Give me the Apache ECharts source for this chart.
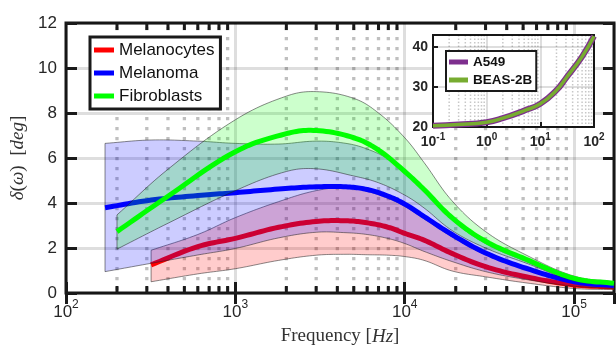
<!DOCTYPE html>
<html>
<head>
<meta charset="utf-8">
<script src="https://cdn.jsdelivr.net/npm/echarts@6/dist/echarts.min.js"></script>
<style>
  html, body { margin: 0; padding: 0; background: #fff; }
  #chart { width: 616px; height: 352px; }
</style>
</head>
<body>
<div id="chart"></div>
<script>
// main plot: delta(omega) vs frequency, mean curve with +/- band per cell type
const redFreq   = [318, 600, 1000, 1800, 3000, 4500, 6000, 8000, 10000, 13000, 19000, 30000, 52000, 100000, 172000];
const redMean   = [1.25, 2.06, 2.43, 2.92, 3.18, 3.21, 3.12, 2.92, 2.65, 2.35, 1.76, 1.17, 0.72, 0.36, 0.27];
const redUpper  = [1.9, 2.6, 3.35, 4.06, 4.55, 4.68, 4.52, 4.2, 3.85, 3.3, 2.5, 1.7, 1.05, 0.45, 0.3];
const redLower  = [0.5, 0.85, 1.08, 1.45, 1.68, 1.72, 1.7, 1.68, 1.62, 1.45, 0.98, 0.72, 0.45, 0.2, 0.15];

const blueFreq  = [170, 318, 600, 1000, 1800, 3000, 4500, 6000, 8000, 10000, 13000, 19000, 30000, 52000, 100000, 172000];
const blueMean  = [3.79, 4.13, 4.33, 4.46, 4.62, 4.72, 4.72, 4.6, 4.3, 3.95, 3.4, 2.6, 1.78, 1.1, 0.5, 0.33];
const blueUpper = [6.65, 6.8, 6.75, 6.65, 6.62, 6.75, 6.65, 6.4, 5.95, 5.35, 4.55, 3.25, 2.2, 1.4, 0.58, 0.4];
const blueLower = [0.95, 1.32, 1.69, 1.98, 2.45, 2.7, 2.68, 2.6, 2.42, 2.2, 1.85, 1.4, 0.95, 0.6, 0.3, 0.2];

const greenFreq  = [200, 400, 1000, 2000, 3000, 5000, 7000, 10000, 13000, 19000, 30000, 52000, 100000, 172000];
const greenMean  = [2.73, 4.3, 6.28, 7.08, 7.22, 6.9, 6.35, 5.4, 4.6, 3.35, 2.3, 1.5, 0.65, 0.43];
const greenUpper = [3.47, 5.5, 7.7, 8.75, 8.95, 8.65, 8.0, 6.9, 5.8, 4.1, 2.73, 1.69, 0.75, 0.5];
const greenLower = [1.95, 3.1, 4.55, 5.4, 5.52, 5.2, 4.9, 4.35, 3.78, 2.78, 2.0, 1.33, 0.55, 0.38];

// inset
const insetFreq = [0.1, 0.3, 1, 2, 5, 10, 20, 30, 60, 100];
const a549      = [20.3, 20.6, 21.2, 22.2, 24.1, 25.8, 29.2, 32.2, 37.6, 42.7];
const beas2b    = [20.3, 20.6, 21.2, 22.2, 24.1, 25.8, 29.2, 32.2, 37.6, 42.7];

const legendNames = ['Melanocytes', 'Melanoma', 'Fibroblasts'];
const insetNames = ['A549', 'BEAS-2B'];

function minorTicks(loExp, hiExp, max) {
  const out = [];
  for (let e = loExp; e < hiExp; e++) {
    for (let k = 2; k <= 9; k++) {
      const v = k * Math.pow(10, e);
      if (v < max) out.push(+v.toPrecision(3));
    }
  }
  return out;
}
const mainMinor = minorTicks(2, 5, 172000);
const insetMinor = minorTicks(-1, 2, 100);

const edge = 'rgba(30,30,30,0.75)';
const sans = 'Liberation Sans, Arial, sans-serif';
const serif = 'Liberation Serif, DejaVu Serif, serif';

function pairs(xs, ys) { return xs.map((x, i) => [x, ys[i]]); }

// smooth a pixel polyline with bezier segments (same idea as echarts' smooth line)
function smoothPath(p, k) {
  const n = p.length, out = [];
  const cin = [], cout = [];
  for (let i = 0; i < n; i++) {
    const a = p[Math.max(i - 1, 0)], b = p[Math.min(i + 1, n - 1)];
    let vx = b[0] - a[0], vy = b[1] - a[1];
    const len = Math.hypot(vx, vy) || 1;
    vx /= len; vy /= len;
    const dPrev = i > 0 ? Math.hypot(p[i][0] - p[i - 1][0], p[i][1] - p[i - 1][1]) : 0;
    const dNext = i < n - 1 ? Math.hypot(p[i + 1][0] - p[i][0], p[i + 1][1] - p[i][1]) : 0;
    cin.push([p[i][0] - vx * dPrev * k, p[i][1] - vy * dPrev * k]);
    cout.push([p[i][0] + vx * dNext * k, p[i][1] + vy * dNext * k]);
  }
  for (let i = 0; i < n - 1; i++) {
    const p0 = p[i], p1 = cout[i], p2 = cin[i + 1], p3 = p[i + 1];
    for (let s = 0; s < 12; s++) {
      const t = s / 12, u = 1 - t;
      out.push([
        u * u * u * p0[0] + 3 * u * u * t * p1[0] + 3 * u * t * t * p2[0] + t * t * t * p3[0],
        u * u * u * p0[1] + 3 * u * u * t * p1[1] + 3 * u * t * t * p2[1] + t * t * t * p3[1]
      ]);
    }
  }
  out.push(p[n - 1]);
  return out;
}

function coords(api, freq, vals) { return freq.map((f, i) => api.coord([f, vals[i]])); }

function band(key, freq, lower, upper, fill) {
  return {
    name: key + '-band', type: 'custom', xAxisIndex: 0, yAxisIndex: 0, silent: true,
    data: [[freq[0], lower[0]]],
    renderItem: function (params, api) {
      const top = smoothPath(coords(api, freq, upper), 0.38);
      const bot = smoothPath(coords(api, freq, lower), 0.38).reverse();
      return { type: 'polygon', shape: { points: top.concat(bot) },
               style: { fill: fill, stroke: edge, lineWidth: 0.7 } };
    }
  };
}

function meanLine(name, freq, vals, color) {
  return {
    name: name, type: 'custom', xAxisIndex: 0, yAxisIndex: 0, silent: true,
    itemStyle: { color: color },
    data: [[freq[0], vals[0]]],
    renderItem: function (params, api) {
      return { type: 'polyline', shape: { points: smoothPath(coords(api, freq, vals), 0.38) },
               style: { stroke: color, lineWidth: 5, fill: null, lineJoin: 'round' } };
    }
  };
}

function supLabel(v) {
  const e = Math.round(Math.log10(v));
  return '{n|10}{s|' + e + '}';
}

const chart = echarts.init(document.getElementById('chart'), null, { renderer: 'canvas' });

const option = {
  animation: false,
  backgroundColor: '#fff',
  grid: [
    { left: 66, top: 23, right: 2, bottom: 59, show: true, borderColor: '#1a1a1a', borderWidth: 3,
      backgroundColor: 'transparent' },
    { left: 433, top: 35, width: 161, height: 92, show: true, borderColor: '#1a1a1a', borderWidth: 2,
      backgroundColor: '#fff', z: 10 }
  ],
  legend: [
    { data: legendNames, orient: 'vertical', left: 90, top: 37, itemWidth: 20, itemHeight: 5, icon: 'rect',
      itemGap: 3, padding: [3, 6, 3, 4], backgroundColor: '#fff', borderColor: '#1a1a1a', borderWidth: 3,
      borderRadius: 0, textStyle: { fontFamily: sans, fontSize: 17, color: '#111', lineHeight: 20 } },
    { data: insetNames, orient: 'vertical', left: 446, top: 51, itemWidth: 19, itemHeight: 5, icon: 'rect',
      itemGap: 2, padding: [3, 4, 3, 3], backgroundColor: '#fff', borderColor: '#1a1a1a', borderWidth: 2,
      borderRadius: 0, z: 14,
      textStyle: { fontFamily: sans, fontSize: 13.5, fontWeight: 'bold', color: '#111', lineHeight: 16 } }
  ],
  xAxis: [
    { type: 'log', logBase: 10, gridIndex: 0, min: 100, max: 172000, position: 'bottom',
      name: '{r|Frequency }{r|[}{i|Hz}{r|]}', nameLocation: 'middle', nameGap: 34,
      nameTextStyle: { rich: {
        r: { fontFamily: serif, fontSize: 19, color: '#333' },
        i: { fontFamily: serif, fontSize: 19, fontStyle: 'italic', color: '#333' } } },
      axisLine: { show: false },
      axisTick: { inside: true, length: 11, lineStyle: { color: '#1a1a1a', width: 3 } },
      axisLabel: { margin: 6, showMaxLabel: false, formatter: supLabel, rich: {
        n: { fontFamily: sans, fontSize: 17, color: '#262626', lineHeight: 22, verticalAlign: 'bottom' },
        s: { fontFamily: sans, fontSize: 12, color: '#262626', lineHeight: 12, verticalAlign: 'top' } } },
      splitLine: { show: true, lineStyle: { color: 'rgba(0,0,0,0.13)', width: 3 } } },
    { type: 'log', logBase: 10, gridIndex: 0, min: 100, max: 172000, position: 'top',
      axisLine: { show: false }, axisLabel: { show: false }, splitLine: { show: false },
      axisTick: { inside: true, length: 11, lineStyle: { color: '#1a1a1a', width: 3 } } },
    { type: 'log', logBase: 10, gridIndex: 1, min: 0.1, max: 100, z: 11,
      axisLine: { show: false },
      axisTick: { inside: true, length: 5, lineStyle: { color: '#1a1a1a', width: 2 } },
      axisLabel: { margin: 5, showMaxLabel: true, formatter: supLabel, rich: {
        n: { fontFamily: sans, fontSize: 14, fontWeight: 'bold', color: '#262626', lineHeight: 17, verticalAlign: 'bottom' },
        s: { fontFamily: sans, fontSize: 10, fontWeight: 'bold', color: '#262626', lineHeight: 10, verticalAlign: 'top' } } },
      splitLine: { show: true, lineStyle: { color: 'rgba(0,0,0,0.13)', width: 2 } } }
  ],
  yAxis: [
    { type: 'value', gridIndex: 0, min: 0, max: 12, interval: 2, position: 'left',
      name: '{i|δ}{r|(}{i|ω}{r|)  [}{i|deg}{r|]}', nameLocation: 'middle', nameGap: 36,
      nameTextStyle: { rich: {
        r: { fontFamily: serif, fontSize: 19, color: '#333' },
        i: { fontFamily: serif, fontSize: 19, fontStyle: 'italic', color: '#333' } } },
      axisLine: { show: false },
      axisTick: { inside: true, length: 11, lineStyle: { color: '#1a1a1a', width: 3 } },
      axisLabel: { margin: 9, fontFamily: sans, fontSize: 17, color: '#262626' },
      splitLine: { show: true, lineStyle: { color: 'rgba(0,0,0,0.13)', width: 3 } } },
    { type: 'value', gridIndex: 0, min: 0, max: 12, interval: 2, position: 'right',
      axisLine: { show: false }, axisLabel: { show: false }, splitLine: { show: false },
      axisTick: { inside: true, length: 11, lineStyle: { color: '#1a1a1a', width: 3 } } },
    { type: 'value', gridIndex: 1, min: 20, max: 43, interval: 10, z: 11,
      axisLine: { show: false },
      axisTick: { inside: true, length: 5, lineStyle: { color: '#1a1a1a', width: 2 } },
      axisLabel: { margin: 5, fontFamily: sans, fontSize: 14, fontWeight: 'bold', color: '#262626' },
      splitLine: { show: true, lineStyle: { color: 'rgba(0,0,0,0.13)', width: 2 } } }
  ],
  series: [
    // dotted minor grid of the main axes
    { type: 'custom', xAxisIndex: 0, yAxisIndex: 0, silent: true, z: 1,
      data: mainMinor.map(f => [f, 0]),
      renderItem: function (params, api) {
        const b = api.coord([api.value(0), 0]);
        const t = api.coord([api.value(0), 12]);
        return { type: 'line', shape: { x1: b[0], y1: t[1] + 4, x2: b[0], y2: b[1] },
                 style: { stroke: 'rgba(0,0,0,0.25)', lineWidth: 3.3, lineDash: [3.3, 6.7] } };
      } },
    band('red', redFreq, redLower, redUpper, 'rgba(255,0,0,0.2)'),
    meanLine('Melanocytes', redFreq, redMean, '#ff0000'),
    band('blue', blueFreq, blueLower, blueUpper, 'rgba(0,0,255,0.2)'),
    meanLine('Melanoma', blueFreq, blueMean, '#0000ff'),
    band('green', greenFreq, greenLower, greenUpper, 'rgba(0,255,0,0.2)'),
    meanLine('Fibroblasts', greenFreq, greenMean, '#00ff00'),
    // minor ticks on the main frame, top and bottom
    { type: 'custom', xAxisIndex: 0, yAxisIndex: 0, silent: true, z: 5,
      data: mainMinor.map(f => [f, 0]),
      renderItem: function (params, api) {
        const b = api.coord([api.value(0), 0]);
        const t = api.coord([api.value(0), 12]);
        return { type: 'group', children: [
          { type: 'rect', shape: { x: b[0] - 1.5, y: b[1] - 7, width: 3, height: 7 }, style: { fill: '#1a1a1a' } },
          { type: 'rect', shape: { x: b[0] - 1.5, y: t[1], width: 3, height: 7 }, style: { fill: '#1a1a1a' } }
        ] };
      } },
    // inset dotted minor grid
    { type: 'custom', xAxisIndex: 2, yAxisIndex: 2, silent: true, z: 11,
      data: insetMinor.map(f => [f, 20]),
      renderItem: function (params, api) {
        const b = api.coord([api.value(0), 20]);
        const t = api.coord([api.value(0), 43]);
        return { type: 'line', shape: { x1: b[0], y1: t[1], x2: b[0], y2: b[1] },
                 style: { stroke: 'rgba(0,0,0,0.22)', lineWidth: 1.5, lineDash: [1.5, 2] } };
      } },
    { name: 'A549', type: 'line', xAxisIndex: 2, yAxisIndex: 2, z: 12, data: pairs(insetFreq, a549),
      symbol: 'none', smooth: 0.5, silent: true,
      lineStyle: { color: '#7e2f8e', width: 6 }, itemStyle: { color: '#7e2f8e' } },
    { name: 'BEAS-2B', type: 'line', xAxisIndex: 2, yAxisIndex: 2, z: 13, data: pairs(insetFreq, beas2b),
      symbol: 'none', smooth: 0.5, silent: true,
      lineStyle: { color: '#77ac30', width: 3.5 }, itemStyle: { color: '#77ac30' } }
  ]
};

chart.setOption(option);
</script>
</body>
</html>
